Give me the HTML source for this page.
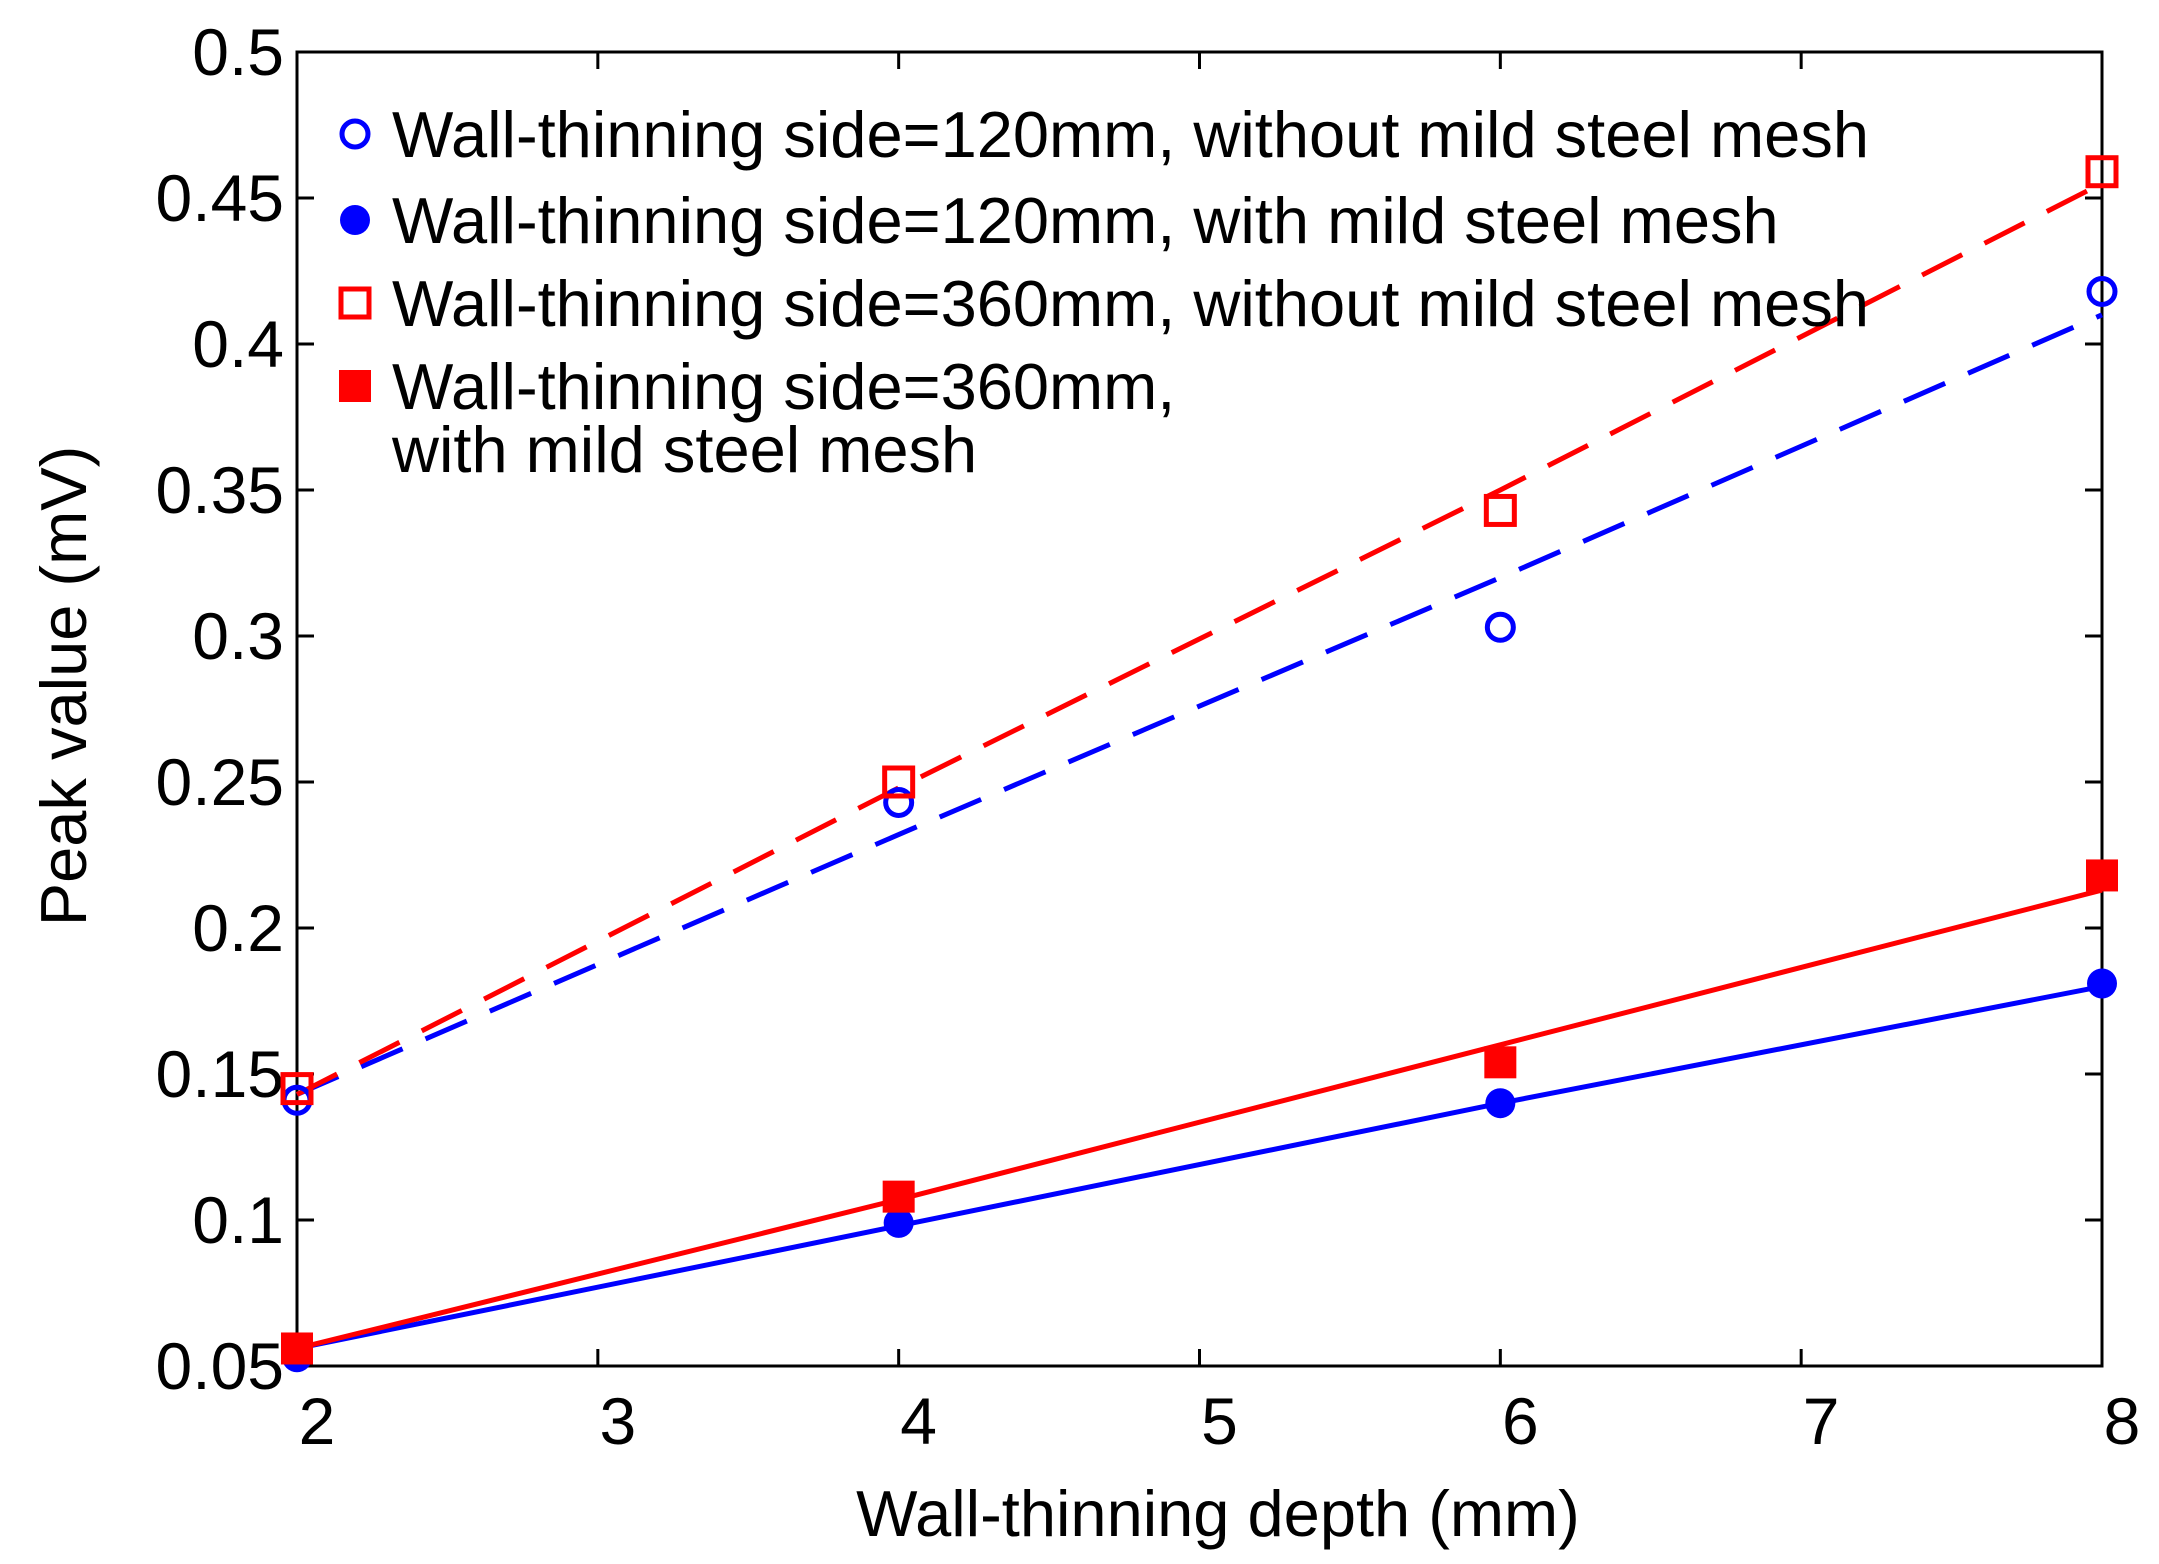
<!DOCTYPE html>
<html><head><meta charset="utf-8"><style>
html,body{margin:0;padding:0;background:#fff}
svg{display:block;font-family:"Liberation Sans",Arial,sans-serif}
</style></head><body>
<svg id="chart" width="2159" height="1564" viewBox="0 0 2159 1564" xmlns="http://www.w3.org/2000/svg">
<g id="plot"></g>
</svg>
<script>
const xTicks = [2,3,4,5,6,7,8];
const yTicks = [0.05,0.1,0.15,0.2,0.25,0.3,0.35,0.4,0.45,0.5];
const yTickLabels = ["0.05","0.1","0.15","0.2","0.25","0.3","0.35","0.4","0.45","0.5"];
const depths = [2,4,6,8];
const s120Without = [0.141,0.243,0.303,0.418];
const s120With = [0.053,0.099,0.140,0.181];
const s360Without = [0.145,0.250,0.343,0.459];
const s360With = [0.056,0.108,0.154,0.218];
const fit120Without = [0.143,0.232,0.320,0.410];
const fit360Without = [0.143,0.248,0.350,0.455];
const fit120With = [0.056,0.098,0.140,0.180];
const fit360With = [0.056,0.107,0.160,0.213];

const L=297,R=2102,T=52,B=1366;
const xs=v=>L+(v-2)/6*(R-L);
const ys=v=>B-(v-0.05)/0.45*(B-T);
const NS="http://www.w3.org/2000/svg";
const g=document.getElementById('plot');
function el(t,a,p){const e=document.createElementNS(NS,t);for(const k in a)e.setAttribute(k,a[k]);(p||g).appendChild(e);return e;}

const box=el('rect',{x:L,y:T,width:R-L,height:B-T,fill:'none',stroke:'#000','stroke-width':3});



xTicks.forEach(v=>{
  const x=xs(v);
  const t1=el('line',{x1:x,y1:B,x2:x,y2:B-17,stroke:'#000','stroke-width':3});
  
  
  el('line',{x1:x,y1:T,x2:x,y2:T+17,stroke:'#000','stroke-width':3});
  const lb=el('text',{x:x+20,y:1444,'font-size':66,'text-anchor':'middle',fill:'#000'});
  lb.textContent=v;
  
  
});
yTicks.forEach((v,i)=>{
  const y=ys(v);
  const t1=el('line',{x1:L,y1:y,x2:L+17,y2:y,stroke:'#000','stroke-width':3});
  
  
  el('line',{x1:R,y1:y,x2:R-17,y2:y,stroke:'#000','stroke-width':3});
  const lb=el('text',{x:284,y:y+23,'font-size':66,'text-anchor':'end',fill:'#000'});
  lb.textContent=yTickLabels[i];
  
  
});

function line(vals,color,dash,name){
  const p=el('polyline',{points:depths.map((d,i)=>xs(d)+','+ys(vals[i])).join(' '),fill:'none',stroke:color,'stroke-width':5,'stroke-dasharray':dash||'none'});
  
  
}
line(fit120Without,'#0000ff','45 25','fit-line-120mm-without-mesh');
line(fit360Without,'#ff0000','45 25','fit-line-360mm-without-mesh');
line(fit120With,'#0000ff',null,'fit-line-120mm-with-mesh');
line(fit360With,'#ff0000',null,'fit-line-360mm-with-mesh');

function marker(kind,cx,cy,name){
  let m;
  if(kind==='oc') m=el('circle',{cx,cy,r:13,fill:'none',stroke:'#0000ff','stroke-width':5});
  if(kind==='fc') m=el('circle',{cx,cy,r:15,fill:'#0000ff'});
  if(kind==='os') m=el('rect',{x:cx-14,y:cy-14,width:28,height:28,fill:'none',stroke:'#ff0000','stroke-width':5});
  if(kind==='fs') m=el('rect',{x:cx-16,y:cy-16,width:32,height:32,fill:'#ff0000'});
  
  
}
depths.forEach((d,i)=>{
  marker('oc',xs(d),ys(s120Without[i]),'point-120mm-without-mesh');
  marker('fc',xs(d),ys(s120With[i]),'point-120mm-with-mesh');
  marker('os',xs(d),ys(s360Without[i]),'point-360mm-without-mesh');
  marker('fs',xs(d),ys(s360With[i]),'point-360mm-with-mesh');
});

const legY=[134,220,303,386];
const legKinds=['oc','fc','os','fs'];
const legText=["Wall-thinning side=120mm, without mild steel mesh","Wall-thinning side=120mm, with mild steel mesh","Wall-thinning side=360mm, without mild steel mesh","Wall-thinning side=360mm,"];
legKinds.forEach((k,i)=>{
  marker(k,355,legY[i],'legend-marker');
  const t=el('text',{x:392,y:legY[i]+23,'font-size':65,fill:'#000'});
  t.textContent=legText[i];
  
  
});
const t2=el('text',{x:392,y:472,'font-size':65,fill:'#000'});
t2.textContent="with mild steel mesh";



const xl=el('text',{x:1218,y:1536,'font-size':65,'text-anchor':'middle',fill:'#000'});
xl.textContent="Wall-thinning depth (mm)";


const yl=el('text',{x:0,y:0,'font-size':65,'text-anchor':'middle',fill:'#000',transform:'translate(86,686) rotate(-90)'});
yl.textContent="Peak value (mV)";


</script>
</body></html>
